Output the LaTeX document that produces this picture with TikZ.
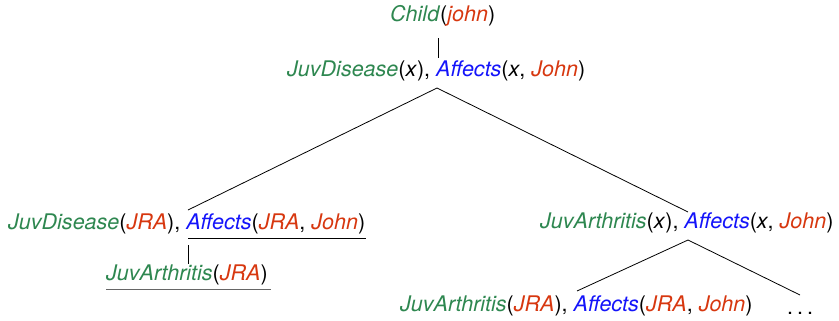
\documentclass[tikz,border=0pt]{standalone}
\usepackage{fontspec}
\setmainfont{TeX Gyre Heros}
\definecolor{tgreen}{RGB}{46,135,80}
\definecolor{tred}{RGB}{215,55,15}
\definecolor{tblue}{RGB}{20,20,250}
\newcommand\gr[1]{\textcolor{tgreen}{\textit{#1}}}
\newcommand\rd[1]{\textcolor{tred}{\textit{#1}}}
\newcommand\bl[1]{\textcolor{tblue}{\textit{#1}}}
\newcommand\vx{\textit{x}}
\begin{document}
\begin{tikzpicture}[x=1bp,y=-1bp,
  lbl/.style={inner sep=0pt,anchor=west,font=\fontsize{21.6}{25}\selectfont},
  edge/.style={line width=0.8bp,black},
  uline/.style={line width=0.9bp}]
\useasboundingbox (0,0) rectangle (839,320);
\node[lbl] (root) at (390,16) {\gr{Child}(\rd{john})};
\node[lbl] (n1) at (287,71) {\gr{JuvDisease}(\vx), \bl{Affects}(\vx, \rd{John})};
\node[lbl] (n2) at (8,224) {\gr{JuvDisease}(\rd{JRA}), \bl{Affects}(\rd{JRA}, \rd{John})};
\node[lbl] (n3) at (106,275) {\gr{JuvArthritis}(\rd{JRA})};
\node[lbl] (n4) at (540,223) {\gr{JuvArthritis}(\vx), \bl{Affects}(\vx, \rd{John})};
\node[lbl] (n5) at (400,306) {\gr{JuvArthritis}(\rd{JRA}), \bl{Affects}(\rd{JRA}, \rd{John})};
\node[lbl,anchor=base west] (dots) at (787,314) {.\hspace{4bp}.\hspace{4bp}.};
% connector points
\coordinate (rootb) at (438,38);
\coordinate (n1t) at (438,58);
\coordinate (n1b) at (437,88);
\coordinate (n2t) at (188,210);
\coordinate (n4t) at (688,212);
\coordinate (n2ul) at (188,238);
\coordinate (n2ur) at (366,238);
\coordinate (n2b) at (188,245);
\coordinate (n3t) at (188,264);
\coordinate (n3ul) at (106,289);
\coordinate (n3ur) at (271,289);
\coordinate (n4b) at (688,240);
\coordinate (n5t) at (577,291);
\coordinate (dotst) at (800,295);
\draw[edge] (rootb) -- (n1t);
\draw[edge] (n1b) -- (n2t);
\draw[edge] (n1b) -- (n4t);
\draw[uline] (n2ul) -- (n2ur);
\draw[edge] (n2b) -- (n3t);
\draw[uline,black!60] (n3ul) -- (n3ur);
\draw[edge] (n4b) -- (n5t);
\draw[edge] (n4b) -- (dotst);
\end{tikzpicture}
\end{document}
